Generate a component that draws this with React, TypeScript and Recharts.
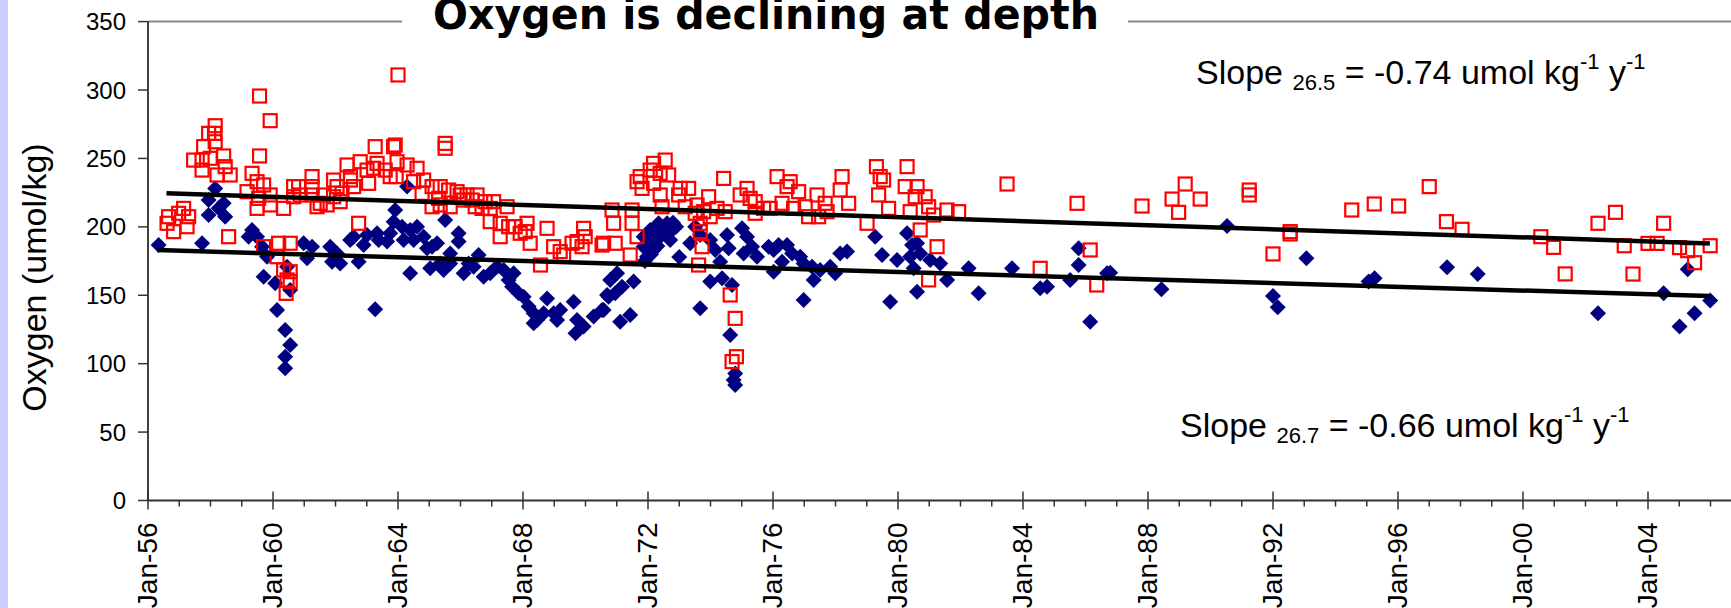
import React from 'react';
import { ScatterChart, Scatter, XAxis, YAxis, ReferenceLine } from 'recharts';

const FONT = '"Liberation Sans", Arial, sans-serif';

// [decimal year, oxygen umol/kg] on the 26.5 surface (red squares)
const sigma265: [number, number][] = [
  [1964.0, 311], [1959.57, 295.6], [1959.91, 277.6],
  [1958.15, 273.9], [1958.13, 268.3], [1957.94, 268.3], [1958.15, 262.2], [1957.78, 258.6], [1957.46, 248.8],
  [1957.73, 248.8], [1957.99, 250.1], [1958.42, 251.8], [1957.73, 241.5], [1958.21, 237.9], [1958.63, 237.9], [1958.47, 244.0],
  [1956.66, 207.4], [1956.82, 196.5], [1957.14, 213.5], [1957.3, 207.4], [1957.25, 200.1], [1956.98, 209.9], [1956.61, 202.6], [1958.58, 192.8],
  [1959.57, 251.8], [1959.33, 239.1], [1959.17, 225.7], [1959.49, 233.0], [1959.7, 230.6], [1959.54, 220.8], [1959.49, 213.5],
  [1959.91, 223.3], [1959.91, 216.0], [1960.34, 213.5],
  [1959.7, 185.5], [1960.18, 188.0], [1960.55, 188.0], [1960.13, 178.2], [1960.34, 168.5], [1960.55, 167.2], [1960.45, 161.2],
  [1960.55, 160.0], [1960.42, 151.4],
  [1960.66, 229.4], [1960.82, 229.4], [1960.66, 222.0], [1961.25, 236.7], [1961.25, 229.4], [1961.25, 223.3], [1960.87, 223.3],
  [1961.51, 217.2], [1961.41, 214.7], [1961.73, 216.0], [1961.62, 223.3],
  [1961.94, 234.2], [1962.05, 229.4], [1961.94, 222.0], [1962.21, 224.5], [1962.15, 218.4],
  [1962.37, 245.2], [1962.48, 236.7], [1962.58, 229.4], [1962.48, 234.2], [1962.74, 202.6],
  [1962.79, 247.6], [1963.01, 241.5], [1963.06, 231.8], [1963.22, 242.8], [1963.27, 258.6], [1963.33, 246.4],
  [1963.59, 241.5], [1963.75, 236.7], [1963.86, 258.6], [1963.91, 259.8], [1963.97, 247.6], [1963.94, 236.7],
  [1964.29, 245.2], [1964.61, 242.8], [1964.5, 233.0], [1964.82, 234.2], [1964.77, 224.5], [1965.09, 229.4], [1965.35, 229.4], [1965.3, 220.8],
  [1965.51, 261.0], [1965.51, 257.4],
  [1965.09, 214.7], [1965.35, 216.0], [1965.62, 226.9], [1965.67, 214.7], [1965.89, 225.7], [1965.99, 223.3], [1966.1, 219.6],
  [1966.21, 223.3], [1966.37, 219.6],
  [1966.53, 223.3], [1966.47, 214.7], [1966.69, 213.5], [1966.79, 218.4], [1966.95, 213.5], [1967.06, 218.4], [1966.95, 203.8],
  [1967.27, 202.6], [1967.49, 214.7], [1967.27, 192.8], [1967.54, 200.1],
  [1967.75, 200.1], [1967.91, 195.3], [1968.07, 196.5], [1968.13, 202.6], [1968.23, 188.0], [1968.56, 172.1], [1968.77, 198.9],
  [1968.98, 185.5], [1969.19, 181.9], [1969.3, 179.4], [1969.57, 188.0], [1969.73, 189.2], [1969.94, 198.9], [1969.89, 185.5],
  [1969.99, 192.8], [1970.53, 186.7],
  [1970.85, 212.3], [1970.9, 202.6], [1970.95, 188.0], [1970.58, 188.0], [1971.49, 212.3], [1971.49, 202.6], [1971.65, 192.8], [1971.43, 179.4],
  [1971.75, 236.7], [1971.65, 233.0], [1971.81, 228.1], [1972.07, 241.5], [1972.18, 246.4], [1972.55, 248.8], [1972.39, 239.1],
  [1972.66, 237.9], [1972.18, 231.8], [1972.39, 223.3], [1972.45, 214.7],
  [1973.03, 228.1], [1973.3, 228.1], [1972.98, 223.3], [1973.19, 214.7], [1973.57, 216.0], [1973.51, 209.9], [1973.67, 202.6],
  [1973.94, 222.0], [1973.78, 211.1], [1973.99, 207.4], [1973.67, 196.5], [1973.73, 185.5], [1973.62, 172.1],
  [1974.21, 213.5], [1974.47, 211.1], [1974.42, 235.4], [1974.63, 150.2], [1974.79, 133.1], [1974.69, 101.5], [1974.83, 105.1],
  [1974.95, 223.3], [1975.17, 228.1], [1975.27, 220.8], [1975.43, 218.4], [1975.43, 209.9], [1975.7, 213.5], [1975.91, 213.5],
  [1976.13, 236.7], [1976.29, 217.2], [1976.45, 229.4], [1976.55, 233.0], [1976.66, 213.5], [1976.82, 225.7], [1977.03, 214.7],
  [1977.14, 207.4], [1977.41, 223.3], [1977.46, 207.4], [1977.67, 217.2], [1977.73, 211.1], [1978.15, 226.9], [1978.21, 236.7],
  [1978.42, 217.2], [1979.01, 202.6],
  [1979.31, 244.0], [1979.43, 236.7], [1979.54, 234.2], [1979.38, 223.3], [1979.7, 213.5], [1980.29, 244.0], [1980.23, 229.4],
  [1980.61, 229.4], [1980.55, 222.0], [1980.87, 222.0], [1980.98, 214.7], [1981.14, 208.6], [1981.57, 212.3], [1981.94, 211.1],
  [1980.39, 211.1], [1980.71, 197.7], [1981.25, 185.5], [1980.98, 161.2],
  [1983.49, 231.3], [1984.55, 169.7], [1985.73, 217.2], [1986.15, 183.1], [1986.36, 157.5],
  [1987.81, 215.2], [1988.77, 220.3], [1989.19, 231.3], [1989.67, 220.3], [1988.98, 210.6], [1991.24, 226.9], [1991.24, 223.3],
  [1992.55, 196.5], [1992.55, 194.8], [1992.0, 180.2], [1994.52, 212.3], [1995.24, 216.7], [1996.02, 215.2], [1997.0, 229.4],
  [1997.55, 203.8], [1998.05, 198.2], [2000.57, 192.8], [2000.98, 185.0], [2001.35, 165.6],
  [2002.4, 202.6], [2002.96, 210.6], [2003.24, 186.2], [2003.52, 165.5], [2004.0, 187.9], [2004.29, 187.9], [2004.5, 202.6],
  [2005.01, 184.8], [2005.27, 182.6], [2005.49, 173.8], [2005.99, 186.2],
];

// [decimal year, oxygen umol/kg] on the 26.7 surface (navy diamonds)
const sigma267: [number, number][] = [
  [1956.34, 186.7], [1957.73, 188.0], [1958.15, 228.1], [1957.94, 219.6], [1958.42, 217.2], [1958.26, 213.5], [1958.47, 207.4], [1957.94, 208.6],
  [1959.33, 197.7], [1959.22, 192.8], [1959.49, 192.8], [1959.65, 185.5], [1959.81, 178.2], [1959.7, 163.6], [1960.07, 158.7],
  [1960.13, 139.2], [1960.39, 124.6], [1960.55, 113.7], [1960.39, 105.1], [1960.39, 96.6], [1960.55, 153.9], [1960.45, 170.9],
  [1960.98, 188.0], [1961.25, 185.5], [1961.09, 177.0], [1961.83, 185.5], [1961.89, 174.5], [1962.15, 173.3], [1962.05, 180.6],
  [1962.47, 190.4], [1962.58, 192.8], [1962.74, 174.5], [1962.9, 186.7], [1963.01, 194.1], [1963.33, 195.3], [1963.38, 190.4],
  [1963.65, 189.2], [1963.75, 195.3], [1963.27, 139.7],
  [1963.91, 212.3], [1964.29, 229.4], [1963.86, 203.8], [1964.13, 200.1], [1964.18, 190.4], [1964.39, 197.7], [1964.61, 200.1],
  [1964.5, 190.4], [1964.82, 192.8], [1965.09, 185.5], [1965.25, 188.0], [1964.93, 184.3], [1964.39, 166.0],
  [1965.51, 205.0], [1965.94, 195.3], [1965.94, 189.2], [1965.67, 180.6], [1965.35, 173.3], [1965.03, 169.7], [1965.46, 168.5], [1965.67, 173.3],
  [1966.1, 166.0], [1966.26, 173.3], [1966.58, 179.4], [1966.42, 170.9], [1966.74, 163.6], [1966.95, 166.0], [1967.17, 170.9],
  [1967.38, 168.5], [1967.54, 161.2], [1967.7, 166.0], [1967.65, 156.3], [1967.86, 151.4], [1968.02, 149.0], [1968.18, 141.7],
  [1968.34, 136.8], [1968.45, 131.9], [1968.66, 136.8], [1968.77, 147.7], [1968.98, 136.8], [1969.19, 139.2], [1969.09, 131.9],
  [1968.34, 129.5], [1969.62, 145.3], [1969.73, 131.9], [1969.68, 122.2], [1969.94, 127.1], [1970.26, 134.4], [1970.53, 139.2], [1970.74, 149.0],
  [1971.86, 192.8], [1972.07, 197.7], [1972.34, 202.6], [1972.61, 202.6], [1972.77, 197.7], [1972.71, 190.4], [1972.18, 183.1],
  [1971.97, 178.2], [1971.86, 185.5], [1972.39, 192.8], [1972.0, 188], [1972.2, 195], [1972.5, 198], [1972.6, 194], [1972.8, 203],
  [1972.9, 200], [1972.3, 186], [1971.9, 175], [1972.1, 180], [1973.0, 178],
  [1970.79, 161.2], [1971.01, 166.0], [1970.69, 150.2], [1971.17, 156.3], [1971.54, 160.0], [1970.58, 139.2], [1971.11, 130.7],
  [1971.43, 135.6], [1970.95, 151.4],
  [1973.51, 200.1], [1973.35, 188.0], [1973.67, 194.1], [1973.99, 190.4], [1974.15, 183.1], [1974.31, 174.5], [1973.99, 160.0],
  [1973.67, 140.5], [1974.53, 194.1], [1974.58, 184.3], [1974.37, 162.4], [1974.69, 157.5], [1974.63, 120.9], [1974.79, 92.9],
  [1974.74, 88.1], [1974.79, 84.4],
  [1975.01, 198.9], [1975.17, 192.8], [1975.06, 180.6], [1975.33, 185.5], [1975.49, 178.2], [1975.86, 185.5], [1976.02, 183.1],
  [1976.18, 186.7], [1976.45, 186.7], [1976.61, 180.6], [1976.02, 167.2], [1976.29, 174.5], [1976.87, 178.2], [1976.98, 173.3],
  [1977.25, 170.9], [1977.3, 161.2], [1977.51, 168.5], [1977.83, 170.9], [1977.99, 166.0], [1978.15, 180.6], [1978.37, 181.9], [1976.98, 146.5],
  [1979.27, 192.8], [1979.49, 179.4], [1979.75, 145.3], [1979.97, 175.8], [1980.29, 195.3], [1980.45, 186.7], [1980.61, 188.0],
  [1980.71, 180.6], [1980.39, 178.2], [1980.5, 169.7], [1981.03, 175.8], [1981.35, 173.3], [1981.57, 161.2], [1980.61, 152.6],
  [1982.26, 169.7], [1982.58, 151.4], [1983.65, 169.7], [1984.55, 155.1], [1984.77, 156.3], [1985.51, 161.2], [1985.78, 184.3],
  [1985.78, 172.1], [1986.15, 130.7],
  [1986.69, 166.0], [1986.79, 166.5], [1988.43, 154.3], [1990.53, 200.6], [1992.0, 149.5], [1992.15, 141.2], [1993.07, 177.0],
  [1995.06, 160.0], [1995.25, 162.4], [1997.57, 170.4], [1998.55, 165.5],
  [2002.4, 136.8], [2004.5, 151.4], [2005.01, 127.1], [2005.49, 136.8], [2005.27, 169.0], [2005.99, 146.1],
];

// linear trend end points
const trend265: [number, number][] = [[1956.59, 224.5], [2005.98, 187.9]];
const trend267: [number, number][] = [[1956.29, 183.0], [2005.98, 149.4]];

const yearTicks = [
  1956, 1957, 1958, 1959, 1960, 1961, 1962, 1963, 1964, 1965, 1966, 1967, 1968, 1969, 1970, 1971, 1972,
  1973, 1974, 1975, 1976, 1977, 1978, 1979, 1980, 1981, 1982, 1983, 1984, 1985, 1986, 1987, 1988, 1989,
  1990, 1991, 1992, 1993, 1994, 1995, 1996, 1997, 1998, 1999, 2000, 2001, 2002, 2003, 2004, 2005, 2006,
];
const oxygenTicks = [0, 50, 100, 150, 200, 250, 300, 350];

const toPoints = (rows: [number, number][]) => rows.map(([year, o2]) => ({ year, o2 }));

const DiamondMark = (props: any) => {
  const { cx, cy } = props;
  if (cx == null || cy == null) return null;
  const r = 8;
  return <path d={`M${cx},${cy - r}L${cx + r},${cy}L${cx},${cy + r}L${cx - r},${cy}Z`} fill="#000080" />;
};

const SquareMark = (props: any) => {
  const { cx, cy } = props;
  if (cx == null || cy == null) return null;
  return <rect x={cx - 6.5} y={cy - 6.5} width={13} height={13} fill="none" stroke="#ff0000" strokeWidth={2.2} />;
};

const NoMark = () => <g />;

const YearTick = (props: any) => {
  const { x, y, payload } = props;
  const yr = Math.round(payload.value);
  const major = (yr - 1956) % 4 === 0;
  const lx = x + 8.5;
  const ly = y + 22;
  return (
    <g>
      <line x1={x} x2={x} y1={major ? y - 9 : y} y2={major ? y + 9 : y + 6} stroke="#333" strokeWidth={1.5} />
      {major && (
        <text x={lx} y={ly} transform={`rotate(-90 ${lx} ${ly})`} textAnchor="end" fontSize={28} fontFamily={FONT} fill="#000">
          {'Jan-' + String(yr % 100).padStart(2, '0')}
        </text>
      )}
    </g>
  );
};

const App = () => {
  return (
    <div style={{ position: 'fixed', left: 0, top: 0, width: 1731, height: 608, overflow: 'hidden', background: '#fff' }}>
      <ScatterChart width={1760} height={608} margin={{ top: 21.6, right: 18.25, bottom: 7.5, left: 48 }}>
        <XAxis
          type="number"
          dataKey="year"
          domain={[1956, 2007]}
          ticks={yearTicks}
          interval={0}
          allowDataOverflow
          height={100}
          tickSize={0}
          tickMargin={0}
          tickLine={false}
          axisLine={{ stroke: '#333', strokeWidth: 2 }}
          tick={(p: any) => <YearTick {...p} />}
        />
        <YAxis
          type="number"
          dataKey="o2"
          domain={[0, 350]}
          ticks={oxygenTicks}
          interval={0}
          width={100}
          tickSize={10}
          tickMargin={12}
          axisLine={{ stroke: '#000', strokeWidth: 1.5 }}
          tickLine={{ stroke: '#333', strokeWidth: 1.5 }}
          tick={{ fill: '#000', fontSize: 24, fontFamily: FONT }}
        />
        <ReferenceLine y={350} stroke="#8a8a8a" strokeWidth={2} />
        <Scatter data={toPoints(sigma267)} shape={DiamondMark} isAnimationActive={false} />
        <Scatter data={toPoints(sigma265)} shape={SquareMark} isAnimationActive={false} />
        <Scatter data={toPoints(trend265)} shape={NoMark} line={{ stroke: '#000', strokeWidth: 4.5 }} isAnimationActive={false} />
        <Scatter data={toPoints(trend267)} shape={NoMark} line={{ stroke: '#000', strokeWidth: 4.5 }} isAnimationActive={false} />
      </ScatterChart>

      <svg width={1731} height={608} style={{ position: 'absolute', left: 0, top: 0, pointerEvents: 'none' }}>
        <rect x={0} y={0} width={8} height={608} fill="#ccccff" />
        <rect x={402} y={6} width={726} height={34} fill="#fff" />
        <text
          x={433}
          y={29}
          fontSize={42}
          fontWeight="bold"
          fontFamily='"Comic Sans MS", "DejaVu Sans", sans-serif'
          textLength={666}
          lengthAdjust="spacingAndGlyphs"
          fill="#000"
        >
          Oxygen is declining at depth
        </text>
        <text x={46} y={277.5} transform="rotate(-90 46 277.5)" textAnchor="middle" fontSize={34} fontFamily={FONT} fill="#000">
          Oxygen (umol/kg)
        </text>
        <text x={1196} y={84} fontSize={34} fontFamily={FONT} fill="#000">
          Slope <tspan fontSize={22} dy={6}>26.5</tspan>
          <tspan dy={-6}> = -0.74 umol kg</tspan>
          <tspan fontSize={22} dy={-15}>-1</tspan>
          <tspan dy={15}> y</tspan>
          <tspan fontSize={22} dy={-15}>-1</tspan>
        </text>
        <text x={1180} y={436.7} fontSize={34} fontFamily={FONT} fill="#000">
          Slope <tspan fontSize={22} dy={6}>26.7</tspan>
          <tspan dy={-6}> = -0.66 umol kg</tspan>
          <tspan fontSize={22} dy={-15}>-1</tspan>
          <tspan dy={15}> y</tspan>
          <tspan fontSize={22} dy={-15}>-1</tspan>
        </text>
      </svg>
    </div>
  );
};

export default App;
